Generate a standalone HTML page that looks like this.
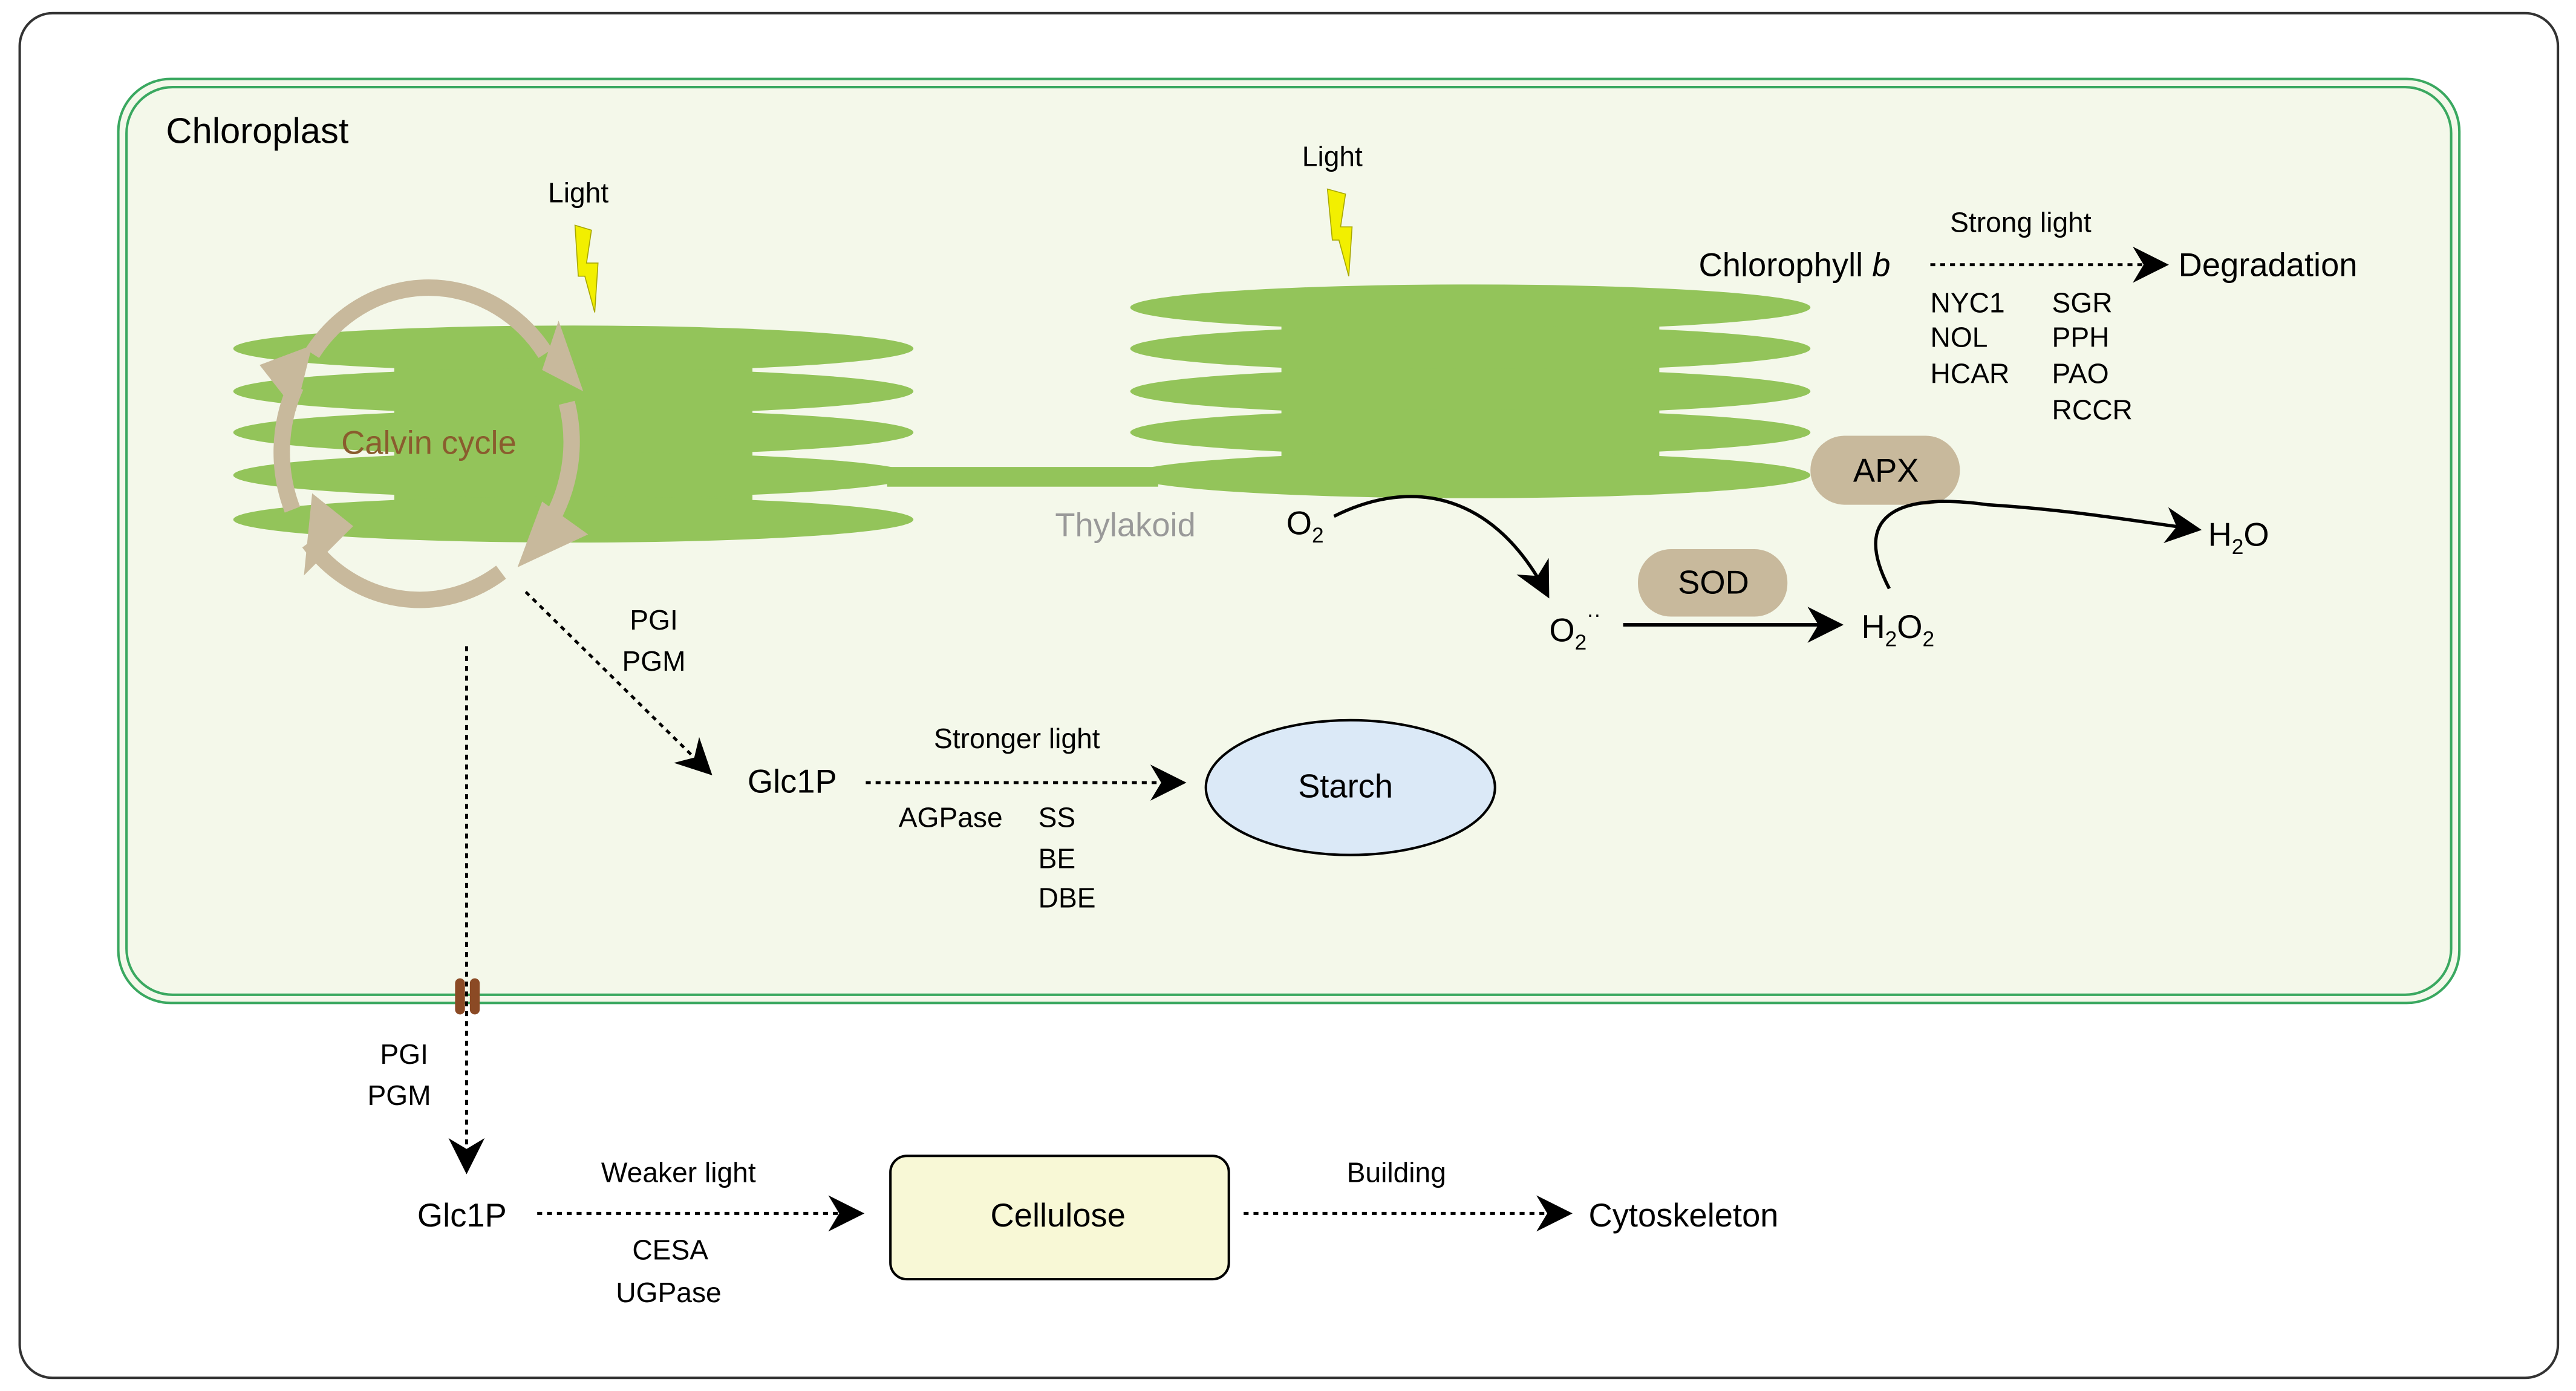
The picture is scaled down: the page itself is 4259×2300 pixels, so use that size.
<!DOCTYPE html>
<html><head><meta charset="utf-8"><style>html,body{margin:0;padding:0;background:#fff}svg{display:block}</style></head>
<body>
<svg width="4259" height="2300" viewBox="0 0 1568 846" preserveAspectRatio="none" xmlns="http://www.w3.org/2000/svg" font-family="Liberation Sans, sans-serif">
<defs>
<marker id="ab" viewBox="0 0 10 10" refX="9" refY="5" markerWidth="22" markerHeight="22" markerUnits="userSpaceOnUse" orient="auto"><path d="M0,0 L10,5 L0,10 L3,5 z" fill="#000"/></marker>
</defs>
<rect x="12" y="8" width="1545" height="830" rx="20" fill="#fff" stroke="#333" stroke-width="1.5"/>
<rect x="72" y="48" width="1425" height="562" rx="32" fill="#f4f8ea" stroke="#3aa860" stroke-width="1.5"/>
<rect x="77" y="53" width="1415" height="552" rx="28" fill="none" stroke="#3aa860" stroke-width="1.5"/>
<text x="101" y="87" font-size="22">Chloroplast</text>
<g fill="#93c45a">
<rect x="540" y="284" width="165" height="12"/>
<rect x="240" y="201" width="218" height="126"/>
<ellipse cx="349" cy="212" rx="207" ry="14"/><ellipse cx="349" cy="238" rx="207" ry="14"/><ellipse cx="349" cy="263" rx="207" ry="14"/><ellipse cx="349" cy="289" rx="207" ry="14"/><ellipse cx="349" cy="316" rx="207" ry="14"/>
<rect x="780" y="176" width="230" height="124"/>
<ellipse cx="895" cy="187" rx="207" ry="14"/><ellipse cx="895" cy="212" rx="207" ry="14"/><ellipse cx="895" cy="238" rx="207" ry="14"/><ellipse cx="895" cy="263" rx="207" ry="14"/><ellipse cx="895" cy="289" rx="207" ry="14"/>
</g>
<g fill="none" stroke="#c8b99c" stroke-width="10">
<path d="M190,215 A86,92 0 0 1 332,215"/>
<path d="M345,245 A86,92 0 0 1 330,325"/>
<path d="M305,348 A86,92 0 0 1 188,330"/>
<path d="M178,310 A86,92 0 0 1 180,235"/>
</g>
<g fill="#c8b99c">
<path d="M340,195 L355,238 L330,225 z"/>
<path d="M330,305 L358,325 L315,345 z"/>
<path d="M190,300 L215,320 L185,350 z"/>
<path d="M158,222 L190,210 L180,250 z"/>
</g>
<text x="261" y="276" font-size="20" fill="#8a5c2e" text-anchor="middle">Calvin cycle</text>
<path d="M350,137 L360,140 L357,160 L364,160 L362,190 L356,168 L352,168 z" fill="#f2ef00" stroke="#a8a800" stroke-width="0.6"/>
<path d="M808,115 L819,118 L816,138 L823,138 L821,168 L815,146 L811,146 z" fill="#f2ef00" stroke="#a8a800" stroke-width="0.6"/>
<text x="352" y="123" font-size="17" text-anchor="middle">Light</text>
<text x="811" y="101" font-size="17" text-anchor="middle">Light</text>
<text x="685" y="326" font-size="20" fill="#999" text-anchor="middle">Thylakoid</text>
<text x="1034" y="168" font-size="20">Chlorophyll <tspan font-style="italic">b</tspan></text>
<line x1="1175" y1="161" x2="1318" y2="161" stroke="#000" stroke-width="1.8" stroke-dasharray="3,3" marker-end="url(#ab)"/>
<text x="1230" y="141" font-size="17" text-anchor="middle">Strong light</text>
<text x="1326" y="168" font-size="20">Degradation</text>
<g font-size="17">
<text x="1175" y="190">NYC1</text><text x="1175" y="211">NOL</text><text x="1175" y="233">HCAR</text>
<text x="1249" y="190">SGR</text><text x="1249" y="211">PPH</text><text x="1249" y="233">PAO</text><text x="1249" y="255">RCCR</text>
</g>
<rect x="1102" y="265" width="91" height="42" rx="21" fill="#c8b99c"/>
<text x="1148" y="293" font-size="20" text-anchor="middle">APX</text>
<rect x="997" y="334" width="91" height="41" rx="20" fill="#c8b99c"/>
<text x="1043" y="361" font-size="20" text-anchor="middle">SOD</text>
<text x="783" y="325" font-size="20">O<tspan font-size="13" dy="5">2</tspan></text>
<path d="M812,314 C860,290 910,300 942,362" fill="none" stroke="#000" stroke-width="2" marker-end="url(#ab)"/>
<text x="943" y="390" font-size="20">O<tspan font-size="13" dy="5">2</tspan><tspan font-size="13" dy="-17">··</tspan></text>
<line x1="988" y1="380" x2="1120" y2="380" stroke="#000" stroke-width="2.2" marker-end="url(#ab)"/>
<text x="1133" y="388" font-size="20">H<tspan font-size="13" dy="5">2</tspan><tspan dy="-5">O</tspan><tspan font-size="13" dy="5">2</tspan></text>
<path d="M1150,358 C1125,310 1160,300 1210,307 C1260,310 1300,317 1338,322" fill="none" stroke="#000" stroke-width="2" marker-end="url(#ab)"/>
<text x="1344" y="332" font-size="20">H<tspan font-size="13" dy="5">2</tspan><tspan dy="-5">O</tspan></text>
<text x="398" y="383" font-size="17" text-anchor="middle">PGI</text>
<text x="398" y="408" font-size="17" text-anchor="middle">PGM</text>
<line x1="320" y1="360" x2="432" y2="470" stroke="#000" stroke-width="1.8" stroke-dasharray="3,3" marker-end="url(#ab)"/>
<text x="455" y="482" font-size="20">Glc1P</text>
<line x1="527" y1="476" x2="720" y2="476" stroke="#000" stroke-width="1.8" stroke-dasharray="3,3" marker-end="url(#ab)"/>
<text x="619" y="455" font-size="17" text-anchor="middle">Stronger light</text>
<g font-size="17"><text x="547" y="503">AGPase</text><text x="632" y="503">SS</text><text x="632" y="528">BE</text><text x="632" y="552">DBE</text></g>
<ellipse cx="822" cy="479" rx="88" ry="41" fill="#dbe9f7" stroke="#000" stroke-width="1.5"/>
<text x="819" y="485" font-size="20" text-anchor="middle">Starch</text>
<line x1="284" y1="393" x2="284" y2="712" stroke="#000" stroke-width="1.8" stroke-dasharray="3,3" marker-end="url(#ab)"/>
<rect x="277" y="595" width="6" height="22" rx="3" fill="#8b4a25"/>
<rect x="286" y="595" width="6" height="22" rx="3" fill="#8b4a25"/>
<text x="246" y="647" font-size="17" text-anchor="middle">PGI</text>
<text x="243" y="672" font-size="17" text-anchor="middle">PGM</text>
<text x="254" y="746" font-size="20">Glc1P</text>
<line x1="327" y1="738" x2="524" y2="738" stroke="#000" stroke-width="1.8" stroke-dasharray="3,3" marker-end="url(#ab)"/>
<text x="413" y="719" font-size="17" text-anchor="middle">Weaker light</text>
<text x="408" y="766" font-size="17" text-anchor="middle">CESA</text>
<text x="407" y="792" font-size="17" text-anchor="middle">UGPase</text>
<rect x="542" y="703" width="206" height="75" rx="10" fill="#f8f8d6" stroke="#000" stroke-width="1.5"/>
<text x="644" y="746" font-size="20" text-anchor="middle">Cellulose</text>
<line x1="757" y1="738" x2="955" y2="738" stroke="#000" stroke-width="1.8" stroke-dasharray="3,3" marker-end="url(#ab)"/>
<text x="850" y="719" font-size="17" text-anchor="middle">Building</text>
<text x="967" y="746" font-size="20">Cytoskeleton</text>
</svg>
</body></html>
